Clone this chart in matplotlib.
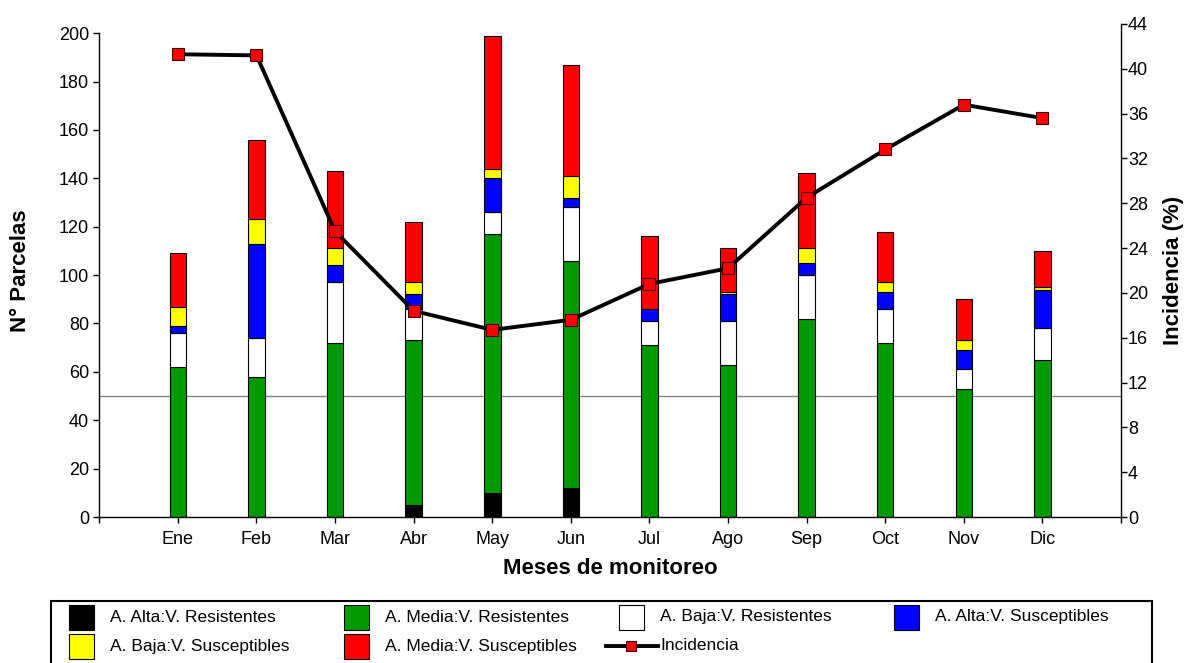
import numpy as np
import matplotlib
matplotlib.use("Agg")
import matplotlib.pyplot as plt
from matplotlib.patches import Rectangle
from matplotlib.lines import Line2D

plt.rcParams['font.family'] = ['Liberation Sans', 'DejaVu Sans']

# data
months = ['Ene', 'Feb', 'Mar', 'Abr', 'May', 'Jun', 'Jul', 'Ago', 'Sep', 'Oct', 'Nov', 'Dic']
alta_res = [0, 0, 0, 5, 10, 12, 0, 0, 0, 0, 0, 0]
media_res = [62, 58, 72, 68, 107, 94, 71, 63, 82, 72, 53, 65]
baja_res = [14, 16, 25, 13, 9, 22, 10, 18, 18, 14, 8, 13]
alta_sus = [3, 39, 7, 6, 14, 4, 5, 11, 5, 7, 8, 16]
baja_sus = [8, 10, 7, 5, 4, 9, 0, 1, 6, 4, 4, 1]
media_sus = [22, 33, 32, 25, 55, 46, 30, 18, 31, 21, 17, 15]
incidencia = [41.3, 41.2, 25.5, 18.4, 16.7, 17.6, 20.8, 22.2, 28.5, 32.8, 36.8, 35.6]

series = [
    ('A. Alta:V. Resistentes', alta_res, 'black'),
    ('A. Media:V. Resistentes', media_res, '#009900'),
    ('A. Baja:V. Resistentes', baja_res, 'white'),
    ('A. Alta:V. Susceptibles', alta_sus, '#0000ff'),
    ('A. Baja:V. Susceptibles', baja_sus, '#ffff00'),
    ('A. Media:V. Susceptibles', media_sus, '#ff0000'),
]

W, H = 1189, 663
fig = plt.figure(figsize=(W / 100, H / 100), dpi=100)

def fx(px):
    return px / W

def fy(py):
    return 1 - py / H

ax = fig.add_axes([fx(99.3), fy(517), fx(1121) - fx(99.3), fy(24) - fy(517)])

x = np.arange(1, len(months) + 1)
bottom = np.zeros(len(months))
for name, vals, col in series:
    ax.bar(x, vals, width=0.21, bottom=bottom, color=col, edgecolor='black',
           linewidth=0.8, zorder=2)
    bottom += np.array(vals)

ax.axhline(50, color='#808080', lw=1, zorder=1)

ax.set_xlim(0, 13)
ax.set_ylim(0, 203.8)
ax.set_yticks(np.arange(0, 201, 20))
ax.set_xticks(np.arange(0, 14))
ax.set_xticklabels([''] + months + [''])
ax.spines['top'].set_visible(False)
ax.spines['right'].set_visible(False)
ax.spines['left'].set_bounds(0, 200)
for s in ['left', 'bottom']:
    ax.spines[s].set_linewidth(1.0)
ax.tick_params(axis='both', labelsize=13, length=4, width=1, direction='out')
ax.tick_params(axis='x', pad=6)
ax.set_ylabel('N° Parcelas', fontsize=16, fontweight='bold')
ax.yaxis.set_label_coords(-0.0668, 0.5)
ax.set_xlabel('Meses de monitoreo', fontsize=16, fontweight='bold')
ax.xaxis.set_label_coords(0.5, -0.084)

ax2 = ax.twinx()
ax2.plot(x, incidencia, color='black', lw=2.8, marker='s', markersize=9,
         markerfacecolor='#ff0000', markeredgecolor='#400000', markeredgewidth=0.8)
ax2.set_ylim(0, 44)
ax2.set_yticks(np.arange(0, 45, 4))
for s in ['top', 'left', 'bottom']:
    ax2.spines[s].set_visible(False)
ax2.spines['right'].set_linewidth(1.0)
ax2.tick_params(axis='y', labelsize=13, length=4, width=1, direction='out', pad=1)
ax2.set_ylabel('Incidencia (%)', fontsize=16, fontweight='bold', rotation=90)
ax2.yaxis.set_label_coords(1.041, 0.5)

# legend box drawn by hand to follow the original layout
fig.patches.append(Rectangle((fx(50.7), fy(666)), fx(1151.7) - fx(50.7), fy(601) - fy(666),
                             transform=fig.transFigure, fill=False, edgecolor='black', lw=1.5))
leg_x = [69.3, 344.3, 619.3, 894]
leg_y = [617, 646]
order = [(0, 0), (0, 1), (0, 2), (0, 3), (1, 0), (1, 1)]
for (row, col), (name, vals, colr) in zip(order, series):
    px, py = leg_x[col], leg_y[row]
    fig.patches.append(Rectangle((fx(px), fy(py + 12.5)), fx(25), fy(0) - fy(25),
                                 transform=fig.transFigure, facecolor=colr,
                                 edgecolor='black', lw=0.8))
    fig.text(fx(px + 41), fy(py), name, fontsize=12.5, va='center', ha='left')
fig.lines.append(Line2D([fx(606), fx(658)], [fy(646), fy(646)], transform=fig.transFigure,
                        color='black', lw=2.8))
fig.lines.append(Line2D([fx(631)], [fy(646)], transform=fig.transFigure, marker='s',
                        markersize=7, markerfacecolor='#ff0000', markeredgecolor='#400000',
                        markeredgewidth=0.8, linestyle='none'))
fig.text(fx(660), fy(646), 'Incidencia', fontsize=12.5, va='center', ha='left')

fig.savefig('out.png', dpi=100)
